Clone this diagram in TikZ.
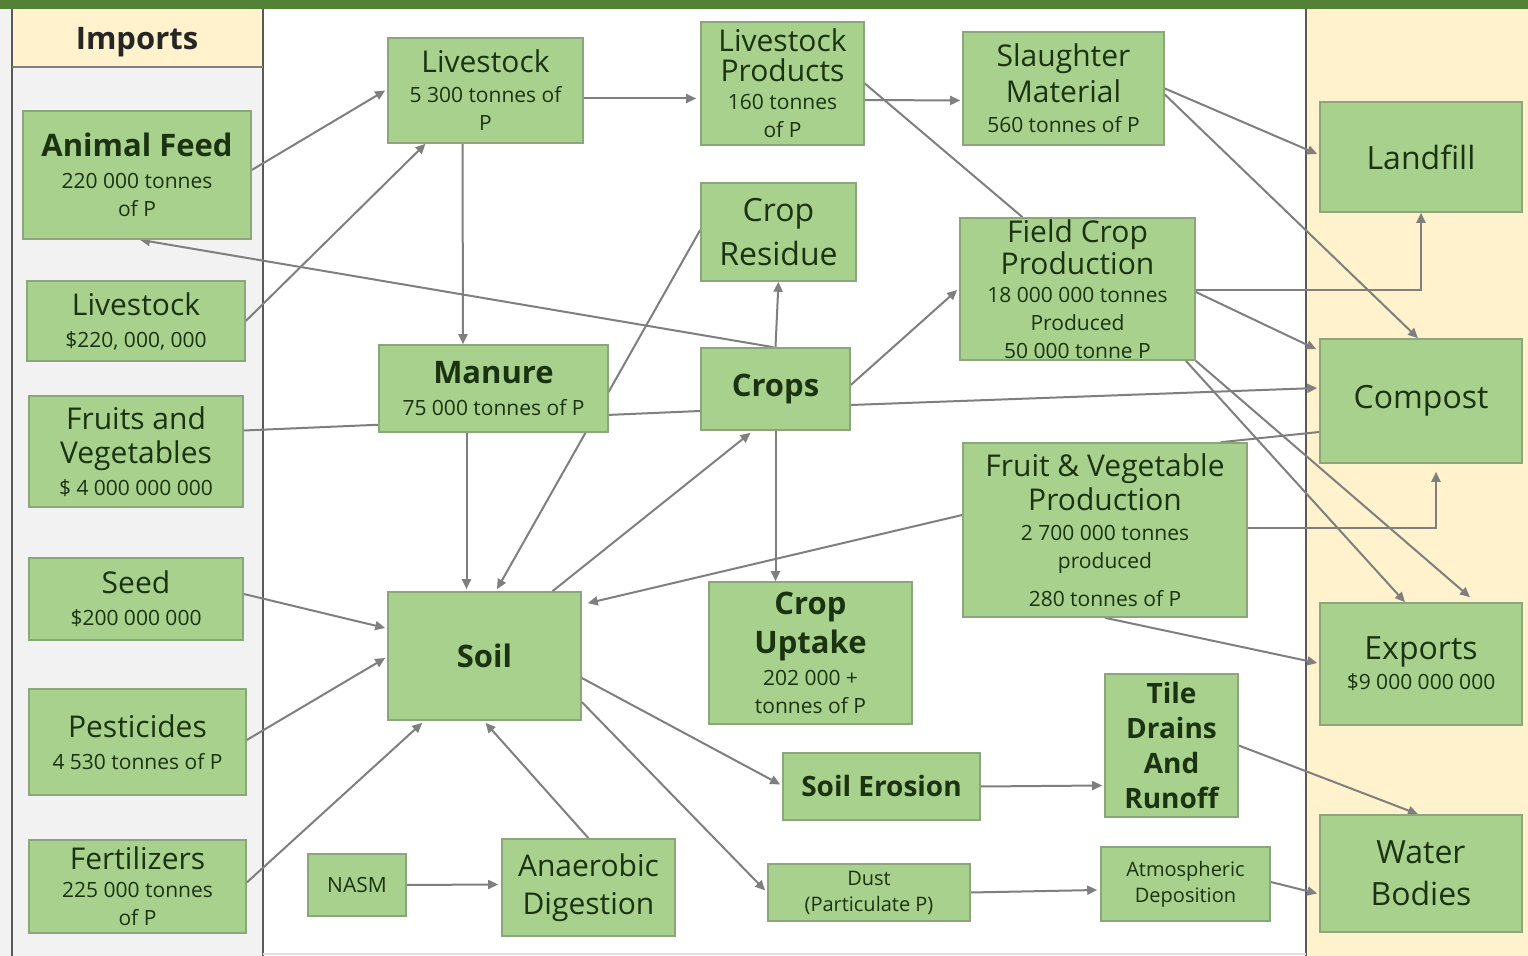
\documentclass[tikz,border=0pt]{standalone}
\usepackage{fontspec}
\setmainfont{Open Sans}
\usetikzlibrary{arrows.meta,calc}
\definecolor{boxfill}{HTML}{A9D18E}
\definecolor{boxline}{HTML}{8CA67C}
\definecolor{txtc}{HTML}{1A3310}
\definecolor{linec}{HTML}{7F7F7F}
\definecolor{cream}{HTML}{FFF2CC}
\definecolor{panelgray}{HTML}{F2F2F2}
\definecolor{bargreen}{HTML}{538135}
\definecolor{borderc}{HTML}{595959}
\newcommand\Tbig{\fontsize{15}{17}\selectfont}
\newcommand\Tbold{\fontsize{15.5}{18}\selectfont\bfseries}
\newcommand\Tsm{\fontsize{10.5}{14}\selectfont}
\newcommand\Tsmall{\fontsize{10}{13}\selectfont}
\pgfdeclarelayer{panels}
\pgfdeclarelayer{lines}
\pgfsetlayers{panels,lines,main}
\tikzset{
  box/.style={draw=boxline, fill=boxfill, line width=0.8pt, inner sep=0pt,
    align=center, text=txtc, font=\Tsm},
  conn/.style={draw=linec, line width=1pt},
  arr/.style={conn, -{Triangle[length=5pt,width=4.5pt]}},
}
\begin{document}
\begin{tikzpicture}[x=0.5pt,y=-0.5pt]
\useasboundingbox (0,0) rectangle (1528,956);
\begin{pgfonlayer}{panels}
  \fill[white] (0,0) rectangle (1528,956);
  \fill[panelgray] (0,9) rectangle (263,956);
  \fill[cream] (12,9) rectangle (263,67);
  \fill[cream] (1306,9) rectangle (1528,956);
  \fill[bargreen] (0,0) rectangle (1528,9);
  \draw[borderc, line width=1pt] (12,9) -- (12,956);
  \draw[borderc, line width=1pt] (263,9) -- (263,956);
  \draw[linec, line width=1pt] (12,67) -- (263,67);
  \draw[borderc, line width=1pt] (1306,9) -- (1306,956);
  \draw[black!12, line width=0.6pt] (263,954) -- (1306,954);
\end{pgfonlayer}
\node[text=black!85, font=\Tbold] (imports) at (137,42) {Imports};
% imports column
\node[box, minimum width=114pt, minimum height=64pt] (afeed) at (137,175) {{\Tbold Animal Feed}\\[2pt]220 000 tonnes\\of P};
\node[box, minimum width=109pt, minimum height=40pt] (lsimp) at (136,321) {{\Tbig Livestock}\\[2pt]\$220, 000, 000};
\node[box, minimum width=107pt, minimum height=55.5pt] (fveg) at (136,451.5) {{\Tbig Fruits and}\\[3pt]{\Tbig Vegetables}\\[2pt]\$ 4 000 000 000};
\node[box, minimum width=107pt, minimum height=41pt] (seed) at (136,599) {{\Tbig Seed}\\[2pt]\$200 000 000};
\node[box, minimum width=108.5pt, minimum height=53pt] (pest) at (137.5,742) {{\Tbig Pesticides}\\[2pt]4 530 tonnes of P};
\node[box, minimum width=108.5pt, minimum height=46.5pt] (fert) at (137.5,886.5) {{\Tbig Fertilizers}\\[0pt]225 000 tonnes\\of P};
% middle
\node[box, minimum width=97.5pt, minimum height=52.5pt] (ls) at (485.5,90.5) {{\Tbig Livestock}\\[1pt]5 300 tonnes of\\P};
\node[box, minimum width=81.5pt, minimum height=61.5pt] (lsp) at (782.5,83.5) {{\Tbig Livestock}\\[1pt]{\Tbig Products}\\160 tonnes\\of P};
\node[box, minimum width=100.5pt, minimum height=56.5pt] (slm) at (1063.5,88.5) {{\Tbig Slaughter}\\[2pt]{\Tbig Material}\\[1pt]560 tonnes of P};
\node[box, minimum width=77.5pt, minimum height=49pt, font=\fontsize{16}{20}\selectfont] (cres) at (778.5,232) {Crop\\[2pt]Residue};
\node[box, minimum width=117.5pt, minimum height=71pt] (fcp) at (1077.5,289) {{\Tbig Field Crop}\\[0pt]{\Tbig Production}\\[0pt]18 000 000 tonnes\\Produced\\50 000 tonne P};
\node[box, minimum width=114.5pt, minimum height=43.5pt] (man) at (493.5,388.5) {{\Tbold Manure}\\[2pt]75 000 tonnes of P};
\node[box, minimum width=74.5pt, minimum height=41pt] (crops) at (775.5,389) {{\Tbold Crops}};
\node[box, minimum width=142pt, minimum height=87pt] (fvp) at (1105,530) {{\Tbig Fruit \& Vegetable}\\[1pt]{\Tbig Production}\\[1pt]2 700 000 tonnes\\produced\\[5pt]280 tonnes of P};
\node[box, minimum width=96.5pt, minimum height=64pt] (soil) at (484.5,656) {{\Tbold Soil}};
\node[box, minimum width=101.5pt, minimum height=71pt] (cup) at (810.5,653) {{\Tbold Crop}\\[3pt]{\Tbold Uptake}\\[2pt]202 000 +\\tonnes of P};
\node[box, minimum width=98.5pt, minimum height=33.5pt, font=\fontsize{14}{17}\selectfont\bfseries] (serr) at (881.5,786.5) {Soil Erosion};
\node[box, minimum width=66.5pt, minimum height=71.5pt, font=\fontsize{14}{17.5}\selectfont\bfseries] (tile) at (1171.5,745.5) {Tile\\Drains\\And\\Runoff};
\node[box, minimum width=49pt, minimum height=31pt, font=\fontsize{10.5}{13}\selectfont] (nasm) at (357,885) {NASM};
\node[box, minimum width=86.5pt, minimum height=48.5pt, font=\fontsize{15}{18}\selectfont] (anae) at (588.5,887.5) {Anaerobic\\[1pt]Digestion};
\node[box, minimum width=101pt, minimum height=28.5pt, font=\Tsmall] (dust) at (869,892.5) {Dust\\(Particulate P)};
\node[box, minimum width=84.5pt, minimum height=37pt, font=\Tsmall] (atm) at (1185.5,884) {Atmospheric\\Deposition};
% exports column
\node[box, minimum width=101pt, minimum height=55pt, font=\fontsize{16}{20}\selectfont] (land) at (1421,157) {Landfill};
\node[box, minimum width=101pt, minimum height=62pt, font=\fontsize{16}{20}\selectfont] (comp) at (1421,401) {Compost};
\node[box, minimum width=101pt, minimum height=61pt] (exp) at (1421,664) {{\fontsize{16}{20}\selectfont Exports}\\[1pt]\$9 000 000 000};
\node[box, minimum width=101pt, minimum height=58.5pt, font=\fontsize{16}{20}\selectfont] (water) at (1421,873.5) {Water\\[1pt]Bodies};
% connectors
\begin{pgfonlayer}{lines}
\draw[arr] ($(afeed.east)+(0,-5)$) -- ($(ls.west)+(-2,0)$);
\draw[arr] (lsimp.east) -- ($(ls.south)+(-60,0)$);
\draw[arr] ($(ls.east)+(0,8)$) -- ($(lsp.west)+(-4,15)$);
\draw[arr] ($(ls.south)+(-23,0)$) -- ($(man.north)+(-30.5,0)$);
\draw[arr] ($(lsp.east)+(0,16.5)$) -- ($(slm.west)+(-2,12)$);
\draw[conn] (lsp.east) -- ($(fcp.north)+(-55,0)$);
\draw[arr] (slm.east) -- ($(land.west)+(-2,-3)$);
\draw[arr] ($(slm.east)+(0,6)$) -- ($(comp.north)+(-3,0)$);
\draw[arr] ($(fcp.east)+(0,1)$) -| (land.south);
\draw[arr] ($(fcp.east)+(0,3)$) -- ($(comp.north west)+(-3,11)$);
\draw[arr] ($(fcp.south east)+(-10,0)$) -- ($(exp.north)+(-16,0)$);
\draw[arr] (fcp.south east) -- ($(exp.north)+(49,-5)$);
\draw[arr] ($(crops.east)+(0,16)$) -- ($(comp.west)+(-2,-13)$);
\draw[arr] ($(crops.east)+(0,-4)$) -- ($(fcp.west)+(-2,1)$);
\draw[arr] (crops.north) -- (cres.south);
\draw[arr] (crops.south) -- ($(cup.north)+(-35,0)$);
\draw[arr] ($(crops.north)+(-2,0)$) -- ($(afeed.south)+(3,0)$);
\draw[conn] ($(fveg.east)+(0,-21)$) -- ($(crops.west)+(0,22)$);
\draw[arr] ($(cres.west)+(0,-2)$) -- ($(soil.north)+(12.5,-2)$);
\draw[arr] ($(man.south)+(-27,0)$) -- ($(soil.north)+(-18,-2)$);
\draw[arr] ($(soil.north)+(68,0)$) -- ($(crops.south)+(-25,2)$);
\draw[arr] ($(fvp.west)+(0,-15)$) -- ($(soil.north east)+(6,12)$);
\draw[conn] ($(comp.west)+(0,31)$) -- ($(fvp.north east)+(-27,0)$);
\draw[arr] ($(fvp.east)+(0,-2)$) -| ($(comp.south)+(15,8)$);
\draw[arr] (fvp.south) -- ($(exp.west)+(-2,-1)$);
\draw[arr] ($(seed.east)+(0,-5)$) -- ($(soil.west)+(-2,-28)$);
\draw[arr] ($(pest.east)+(0,-2)$) -- ($(soil.west)+(-2,2)$);
\draw[arr] ($(fert.east)+(0,-4)$) -- ($(soil.south west)+(35,2)$);
\draw[arr] (anae.north) -- ($(soil.south)+(1,2)$);
\draw[arr] (nasm.east) -- ($(anae.west)+(-3,-3)$);
\draw[arr] ($(soil.east)+(0,22)$) -- ($(serr.west)+(-2,-2)$);
\draw[arr] ($(soil.east)+(0,46)$) -- ($(dust.west)+(-2,-2)$);
\draw[arr] (serr.east) -- ($(tile.west)+(-2,40)$);
\draw[arr] (dust.east) -- ($(atm.west)+(-3,6)$);
\draw[arr] (tile.east) -- ($(water.north)+(-3,0)$);
\draw[arr] ($(atm.east)+(0,-2)$) -- ($(water.west)+(-2,20)$);
\end{pgfonlayer}
\end{tikzpicture}
\end{document}
